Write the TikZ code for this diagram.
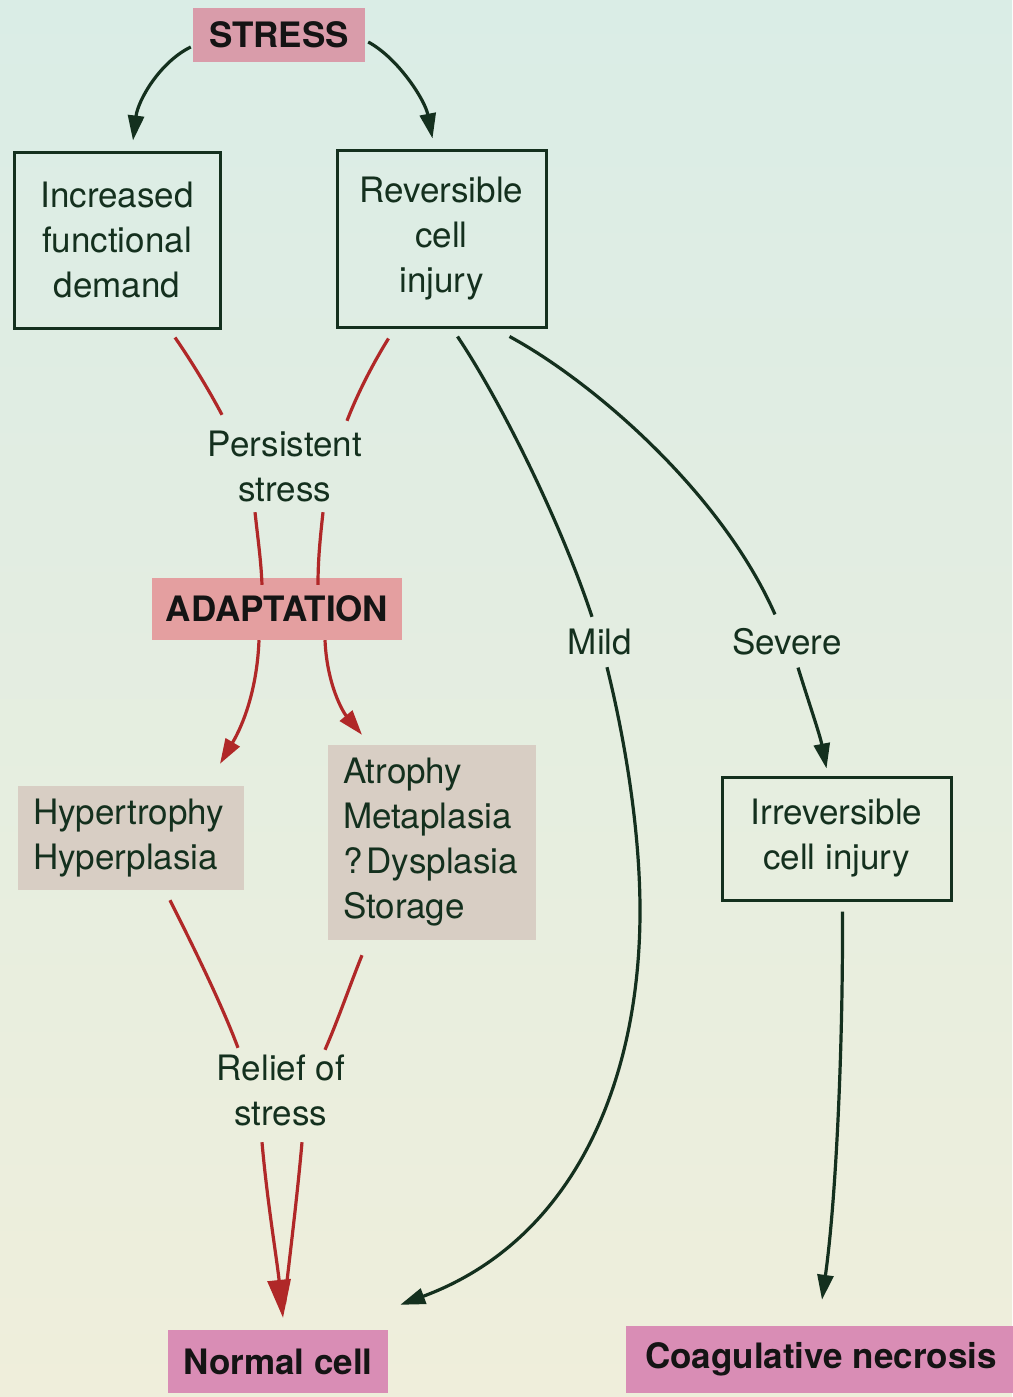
\documentclass[tikz,border=0pt]{standalone}
\usepackage{fontspec}
\setmainfont{TeX Gyre Heros}
\usetikzlibrary{arrows.meta,calc}
\definecolor{bgtop}{HTML}{DAEDE6}
\definecolor{bgbot}{HTML}{EFEEDB}
\definecolor{ink}{HTML}{14301E}
\definecolor{redline}{HTML}{B02828}
\definecolor{pinkA}{HTML}{D99CAA}
\definecolor{pinkB}{HTML}{E49FA0}
\definecolor{pinkC}{HTML}{D98DB5}
\definecolor{greybox}{HTML}{D8CEC4}
\begin{document}
\begin{tikzpicture}[x=1pt,y=-1pt,
  reg/.style={font=\fontsize{35}{45}\selectfont, text=ink},
  boldlab/.style={font=\fontsize{35}{42}\selectfont\bfseries, text=black!92, inner sep=0pt},
  outlinebox/.style={reg, draw=ink, line width=3pt, align=center, inner sep=0pt},
  greylist/.style={reg, fill=greybox, align=left, inner ysep=0pt, inner xsep=15pt},
  txtlab/.style={reg, align=center, inner sep=0pt},
  darkline/.style={draw=ink, line width=3.2pt},
  redl/.style={draw=redline, line width=3.2pt},
  tip/.style={-{Triangle[length=25pt,width=16pt]}},
]
\useasboundingbox (0,0) rectangle (1012,1397);
\shade[top color=bgtop, bottom color=bgbot] (0,0) rectangle (1012,1397);

% nodes
\node[boldlab, fill=pinkA, minimum width=172pt, minimum height=54pt] (stress) at (279,35) {STRESS};
\node[outlinebox, minimum width=206pt, minimum height=176pt] (inc) at (117,240) {Increased\\functional\\demand};
\node[outlinebox, minimum width=209pt, minimum height=177pt] (rev) at (441.5,238.5) {Reversible\\cell\\injury};
\node[txtlab, minimum height=90pt] (pers) at (285,466) {Persistent\\stress};
\node[boldlab, fill=pinkB, minimum width=250pt, minimum height=62pt] (adapt) at (277,609) {ADAPTATION};
\node[greylist, text width=196pt, minimum height=104pt] (hyper) at (131,838) {Hypertrophy\\Hyperplasia};
\node[greylist, text width=178pt, minimum height=195pt] (atro) at (432,842.5) {Atrophy\\Metaplasia\\\mbox{?\hspace{0.12em}Dysplasia}\\Storage};
\node[txtlab, minimum height=90pt] (relief) at (281,1090) {Relief of\\stress};
\node[boldlab, fill=pinkC, minimum width=220pt, minimum height=63pt] (normal) at (278,1361.5) {Normal cell};
\node[txtlab, inner sep=4pt] (mild) at (600,642) {Mild};
\node[txtlab, inner sep=4pt] (severe) at (787,642) {Severe};
\node[outlinebox, minimum width=229pt, minimum height=123pt] (irr) at (836.5,838.5) {Irreversible\\cell injury};
\node[boldlab, fill=pinkC, minimum width=390pt, minimum height=67pt] (coag) at (821,1359.5) {Coagulative necrosis};

% stress arrows
\draw[darkline, tip] ([xshift=-2pt,yshift=-12pt]stress.west) .. controls (160,62) and (138,100) .. ([xshift=16pt,yshift=10pt]inc.north);
\draw[darkline, tip] ([xshift=3pt,yshift=-7pt]stress.east) .. controls (398,58) and (425,100) .. ([xshift=-9pt,yshift=10pt]rev.north);

% persistent stress
\draw[redl] ([xshift=58pt,yshift=-8pt]inc.south) .. controls (192,362) and (210,392) .. ([xshift=-63pt,yshift=6pt]pers.north);
\draw[redl] ([xshift=-53pt,yshift=-10pt]rev.south) .. controls (375,360) and (358,392) .. ([xshift=62pt]pers.north);
\draw[redl] ([xshift=-30pt,yshift=-1pt]pers.south) .. controls (258,540) and (261,560) .. ([xshift=-15pt,yshift=-7pt]adapt.north);
\draw[redl] ([xshift=38pt,yshift=-1pt]pers.south) .. controls (320,540) and (318,560) .. ([xshift=41pt,yshift=-7pt]adapt.north);

% adaptation outcomes
\draw[redl, tip] ([xshift=-18pt]adapt.south) .. controls (257,690) and (243,725) .. ([xshift=89pt,yshift=22pt]hyper.north);
\draw[redl, tip] ([xshift=48pt]adapt.south) .. controls (327,685) and (343,712) .. ([xshift=-70pt,yshift=10pt]atro.north);

% relief of stress
\draw[redl] ([xshift=39pt,yshift=-10pt]hyper.south) .. controls (195,950) and (222,1005) .. ([xshift=-43pt,yshift=-3pt]relief.north);
\draw[redl] ([xshift=-70pt,yshift=-15pt]atro.south) .. controls (350,985) and (338,1020) .. ([xshift=44pt,yshift=-5pt]relief.north);
\draw[redl, shorten >=14pt] ([xshift=21pt,yshift=-7pt]relief.south) .. controls (297,1200) and (288,1270) .. ([xshift=5pt,yshift=12pt]normal.north);
\draw[redl, -{Triangle[length=38pt,width=23pt]}] ([xshift=-19pt,yshift=-7pt]relief.south) .. controls (267,1200) and (277,1260) .. ([xshift=5pt,yshift=12pt]normal.north);

% mild
\draw[darkline] ([xshift=16pt,yshift=-8pt]rev.south) .. controls (500,400) and (560,520) .. ([xshift=-8pt,yshift=8pt]mild.north);
\draw[darkline, tip] ([xshift=7pt,yshift=-8pt]mild.south) .. controls (625,740) and (640,830) .. (640,911) .. controls (640,1080) and (575,1240) .. ([xshift=12pt,yshift=25pt]normal.north east);

% severe
\draw[darkline] ([xshift=68pt,yshift=-8pt]rev.south) .. controls (590,380) and (720,490) .. ([xshift=-12pt,yshift=10pt]severe.north);
\draw[darkline, tip] ([xshift=11pt,yshift=-8pt]severe.south) .. controls (808,700) and (820,735) .. ([xshift=-10pt,yshift=7pt]irr.north);
\draw[darkline, tip] ([xshift=6pt,yshift=-10pt]irr.south) .. controls (843,1050) and (836,1200) .. ([xshift=1pt,yshift=26pt]coag.north);
\end{tikzpicture}
\end{document}
